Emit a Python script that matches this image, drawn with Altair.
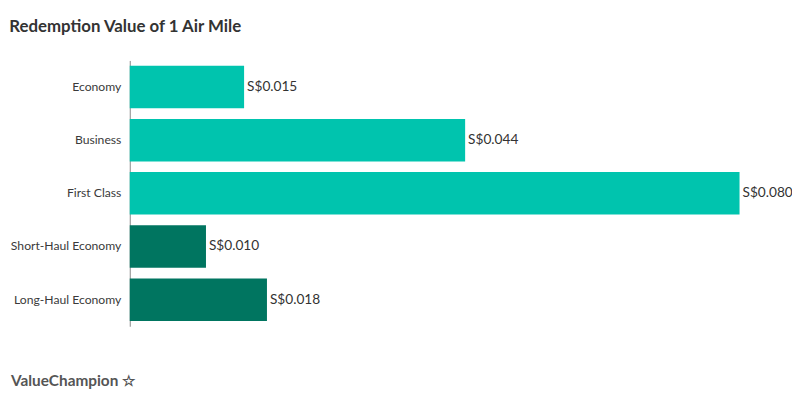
import altair as alt
import pandas as pd

categories = ["Economy", "Business", "First Class", "Short-Haul Economy", "Long-Haul Economy"]
values = [0.015, 0.044, 0.080, 0.010, 0.018]
groups = ["Cabin", "Cabin", "Cabin", "Haul", "Haul"]
group_colors = ["#00C4AE", "#007560"]

df = pd.DataFrame({"category": categories, "value": values, "group": groups})

W = 661
H = 268.5
D = 0.08 * W / 616

base = alt.Chart(df).transform_calculate(
    label="'S$' + format(datum.value, '.3f')"
).encode(
    y=alt.Y(
        "category:N",
        sort=categories,
        scale=alt.Scale(paddingInner=0.2, paddingOuter=0.1),
        axis=alt.Axis(
            title=None, ticks=False, domainColor="#888888", domainWidth=1,
            labelFont="Lato", labelFontSize=12.3, labelColor="#3a3a3a", labelPadding=9,
        ),
    )
)

bars = base.mark_bar().encode(
    x=alt.X("value:Q", scale=alt.Scale(domain=[0, D], nice=False, zero=True), axis=None),
    color=alt.Color("group:N", scale=alt.Scale(domain=["Cabin", "Haul"], range=group_colors), legend=None),
)

text = base.mark_text(align="left", baseline="middle", dx=3, font="Lato", fontSize=13.8, color="#333333").encode(
    x="value:Q", text="label:N"
)

footer = alt.Chart(pd.DataFrame({"t": ["ValueChampion ☆"]})).mark_text(
    align="left", baseline="alphabetic", font="Lato", fontSize=15.5, fontWeight="bold", color="#555555"
).encode(x=alt.value(-120), y=alt.value(H + 60), text="t:N")

chart = (bars + text + footer).properties(
    width=W,
    height=H,
    title=alt.TitleParams(
        "Redemption Value of 1 Air Mile", anchor="start", dx=-1, font="Lato",
        fontSize=17, fontWeight="bold", color="#333333", baseline="alphabetic", offset=12,
    ),
    autosize=alt.AutoSizeParams(type="none"),
    padding={"left": 123, "top": 51, "right": 8, "bottom": 70},
).configure_view(stroke=None)

chart.save("out.html", embed_options={"renderer": "svg", "actions": False})
